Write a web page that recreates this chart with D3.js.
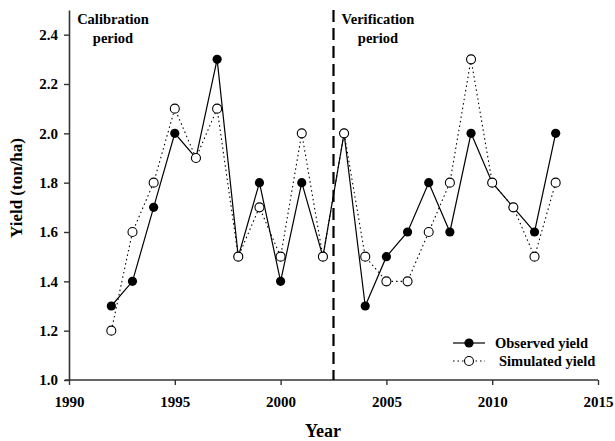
<!DOCTYPE html>
<html>
<head>
<meta charset="utf-8">
<script src="https://cdn.jsdelivr.net/npm/d3@7"></script>
<style>
  body { margin: 0; background: #fff; }
  svg { display: block; }
  text { font-family: "Liberation Serif", "Times New Roman", serif; font-weight: bold; fill: #000; }
</style>
</head>
<body>
<svg id="chart" width="615" height="441"></svg>
<script>
// Yield per year, observed vs. simulated
const years = [1992, 1993, 1994, 1995, 1996, 1997, 1998, 1999, 2000, 2001, 2002,
               2003, 2004, 2005, 2006, 2007, 2008, 2009, 2010, 2011, 2012, 2013];
const observed  = [1.3, 1.4, 1.7, 2.0, 1.9, 2.3, 1.5, 1.8, 1.4, 1.8, 1.5,
                   2.0, 1.3, 1.5, 1.6, 1.8, 1.6, 2.0, 1.8, 1.7, 1.6, 2.0];
const simulated = [1.2, 1.6, 1.8, 2.1, 1.9, 2.1, 1.5, 1.7, 1.5, 2.0, 1.5,
                   2.0, 1.5, 1.4, 1.4, 1.6, 1.8, 2.3, 1.8, 1.7, 1.5, 1.8];
const xTicks = [1990, 1995, 2000, 2005, 2010, 2015];
const yTicks = [1.0, 1.2, 1.4, 1.6, 1.8, 2.0, 2.2, 2.4];
const splitYear = 2002.5;

const svg = d3.select("#chart");
const x = d3.scaleLinear().domain([1990, 2015]).range([69, 598]);
const y = d3.scaleLinear().domain([1.0, 2.5]).range([380, 10]);

const axisColor = "#333";

// Axes
const xAxis = svg.append("g").attr("transform", `translate(0,${y(1.0)})`)
  .call(d3.axisBottom(x).tickValues(xTicks).tickFormat(d3.format("d")).tickSize(5).tickSizeOuter(0));
const yAxis = svg.append("g").attr("transform", `translate(${x(1990)},0)`)
  .call(d3.axisLeft(y).tickValues(yTicks).tickFormat(d3.format(".1f")).tickSize(5).tickSizeOuter(0));

[xAxis, yAxis].forEach(g => {
  g.select(".domain").attr("stroke", axisColor).attr("stroke-width", 1.6);
  g.selectAll(".tick line").attr("stroke", axisColor).attr("stroke-width", 1.4);
  g.selectAll(".tick text").style("font-size", "15px")
    .style("font-family", "'Liberation Serif', serif").style("font-weight", "bold");
});
xAxis.select(".domain").attr("d", `M${x(1990) - 4},0H${x(2015)}`);
xAxis.selectAll(".tick text").attr("dy", "1.25em");
yAxis.selectAll(".tick text").attr("x", -11);

// Axis titles
svg.append("text").attr("x", 323).attr("y", 437).attr("text-anchor", "middle")
  .style("font-size", "18px").text("Year");
svg.append("text").attr("transform", `translate(22,188) rotate(-90)`)
  .attr("text-anchor", "middle").style("font-size", "17px").text("Yield (ton/ha)");

// Period divider
svg.append("line")
  .attr("x1", x(splitYear)).attr("x2", x(splitYear))
  .attr("y1", y(2.5)).attr("y2", y(1.0))
  .attr("stroke", "#000").attr("stroke-width", 2.2).attr("stroke-dasharray", "12,6");

// Period labels
const periodLabel = (cx, lines) => {
  lines.forEach((t, i) => {
    svg.append("text").attr("x", cx).attr("y", 24 + i * 19)
      .attr("text-anchor", "middle").style("font-size", "14.5px").text(t);
  });
};
periodLabel(113, ["Calibration", "period"]);
periodLabel(378, ["Verification", "period"]);

// Series
const line = d3.line().x(d => x(d[0])).y(d => y(d[1]));
const obsPts = years.map((yr, i) => [yr, observed[i]]);
const simPts = years.map((yr, i) => [yr, simulated[i]]);

svg.append("path").datum(simPts).attr("d", line)
  .attr("fill", "none").attr("stroke", "#000").attr("stroke-width", 1.1)
  .attr("stroke-dasharray", "1.5,3");
svg.append("path").datum(obsPts).attr("d", line)
  .attr("fill", "none").attr("stroke", "#000").attr("stroke-width", 1.2);

// Observed markers first so simulated (open) markers sit on top where they coincide
svg.append("g").selectAll("circle").data(obsPts).join("circle")
  .attr("cx", d => x(d[0])).attr("cy", d => y(d[1])).attr("r", 4.6)
  .attr("fill", "#000");
svg.append("g").selectAll("circle").data(simPts).join("circle")
  .attr("cx", d => x(d[0])).attr("cy", d => y(d[1])).attr("r", 4.5)
  .attr("fill", "#fff").attr("stroke", "#000").attr("stroke-width", 1.1);

// Legend
const lg = svg.append("g");
lg.append("line").attr("x1", 453).attr("x2", 485).attr("y1", 343).attr("y2", 343)
  .attr("stroke", "#000").attr("stroke-width", 1.2);
lg.append("circle").attr("cx", 469).attr("cy", 343).attr("r", 4.6).attr("fill", "#000");
lg.append("text").attr("x", 495).attr("y", 348).style("font-size", "14.5px").text("Observed yield");
lg.append("line").attr("x1", 453).attr("x2", 485).attr("y1", 361).attr("y2", 361)
  .attr("stroke", "#000").attr("stroke-width", 1.1).attr("stroke-dasharray", "1.5,3");
lg.append("circle").attr("cx", 469).attr("cy", 361).attr("r", 4.5)
  .attr("fill", "#fff").attr("stroke", "#000").attr("stroke-width", 1.1);
lg.append("text").attr("x", 499).attr("y", 366).style("font-size", "14.5px").text("Simulated yield");
</script>
</body>
</html>
